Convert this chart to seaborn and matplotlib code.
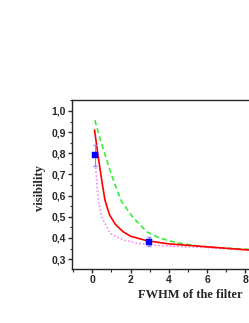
#!/usr/bin/env python3

from matplotlib import pyplot as plt
from matplotlib.ticker import FuncFormatter, MultipleLocator
import seaborn as sns

# curves
red_x = [0.12, 0.3, 0.5, 0.66, 0.9, 1.2, 1.6, 2.0, 2.85, 4.0, 6.0, 8.2, 10.0]
red_y = [0.91, 0.79, 0.67, 0.58, 0.51, 0.465, 0.43, 0.408, 0.387, 0.372, 0.358, 0.343, 0.335]

green_x = [0.14, 0.4, 0.72, 1.0, 1.28, 1.54, 2.1, 2.85, 3.5, 4.42, 5.5, 6.5, 8.17, 10.0]
green_y = [0.956, 0.87, 0.78, 0.70, 0.63, 0.571, 0.50, 0.429, 0.40, 0.377, 0.362, 0.354, 0.346, 0.34]

pink_x = [0.17, 0.22, 0.31, 0.49, 0.58, 0.93, 1.62, 2.3, 3.02, 4.2, 5.6, 8.17, 10.0]
pink_y = [0.75, 0.68, 0.579, 0.50, 0.484, 0.422, 0.39, 0.376, 0.367, 0.36, 0.356, 0.343, 0.338]

pts_x = [0.13, 2.97]
pts_y = [0.79, 0.382]
pts_err = [0.05, 0.022]

sns.set_style("ticks")
plt.rcParams["font.family"] = ["Liberation Sans", "DejaVu Sans"]

fig = plt.figure(figsize=(2.49, 3.23), dpi=100)
ax = fig.add_axes([0.289, 0.167, 0.85, 0.523])

sns.lineplot(x=green_x, y=green_y, ax=ax, color="#33ee33", linestyle=(0, (3, 2)), linewidth=1.2)
sns.lineplot(x=pink_x, y=pink_y, ax=ax, color="#ff77ff", linestyle=(0, (1, 1.5)), linewidth=1.1)
sns.lineplot(x=red_x, y=red_y, ax=ax, color="red", linewidth=1.2)
ax.errorbar(pts_x, pts_y, yerr=pts_err, fmt="none", ecolor="#8888ff", elinewidth=0.8, capsize=1.5)
sns.scatterplot(x=pts_x, y=pts_y, ax=ax, marker="s", color="#0000ff", s=14, edgecolor="#0000ff", zorder=5)

ax.set_xlim(-1.06, 10.0)
ax.set_ylim(0.253, 1.051)
ax.xaxis.set_major_locator(MultipleLocator(2))
ax.xaxis.set_minor_locator(MultipleLocator(1))
ax.yaxis.set_major_locator(MultipleLocator(0.1))
ax.yaxis.set_minor_locator(MultipleLocator(0.05))
ax.yaxis.set_major_formatter(FuncFormatter(lambda v, p: f"{v:.1f}".replace(".", ",")))
ax.tick_params(which="major", length=3, width=1, labelsize=7.5, pad=1.5)
ax.tick_params(which="minor", length=1.8, width=0.8)
for lab in ax.get_xticklabels() + ax.get_yticklabels():
    lab.set_fontweight("bold")
for s in ax.spines.values():
    s.set_linewidth(1)
sns.despine(ax=ax, right=True, top=False)

ax.set_xlabel("FWHM of the filter", fontfamily="Liberation Serif", fontweight="bold", fontsize=9)
ax.set_ylabel("visibility", fontfamily="Liberation Serif", fontweight="bold", fontsize=9)
ax.xaxis.set_label_coords((242 - 72) / 211.0, -0.155)
ax.xaxis.label.set_horizontalalignment("right")
ax.xaxis.label.set_verticalalignment("center")
ax.yaxis.set_label_coords(-0.152, 0.48)
ax.yaxis.label.set_verticalalignment("center")

fig.savefig("out.png", dpi=100)
